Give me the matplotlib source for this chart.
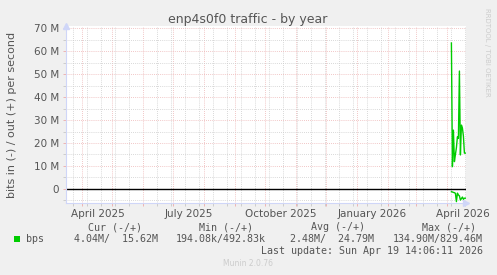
"""Munin-style yearly traffic graph for enp4s0f0."""

from datetime import datetime, timedelta

import matplotlib

matplotlib.use("Agg")
import matplotlib.dates as mdates
import matplotlib.pyplot as plt
import numpy as np

# --- data (bits per second) ---------------------------------------------------
START = datetime(2025, 3, 15, 14, 6)
END = datetime(2026, 4, 19, 14, 6)
DAYS = [datetime(2026, 4, d) for d in range(5, 20)]
OUT_MBPS = [63.5, 9.7, 25.6, 11.9, 15.0, 18.0, 22.7, 22.0, 51.3, 14.8, 27.8, 26.5, 23.0, 15.6, 15.6]
IN_MBPS = [1.2, 1.3, 1.5, 1.6, 1.9, 5.5, 1.8, 2.6, 3.0, 4.8, 4.2, 3.5, 4.5, 4.0, 4.0]

Y_TICKS = [0, 10, 20, 30, 40, 50, 60, 70]
Y_TICK_LABELS = ["0", "10 M", "20 M", "30 M", "40 M", "50 M", "60 M", "70 M"]
X_LABEL_DATES = [datetime(2025, 4, 16), datetime(2025, 7, 16), datetime(2025, 10, 16),
                 datetime(2026, 1, 16), datetime(2026, 4, 16)]
X_LABELS = ["April 2025", "July 2025", "October 2025", "January 2026", "April 2026"]

LEGEND_HEADERS = ["Cur (-/+)", "Min (-/+)", "Avg (-/+)", "Max (-/+)"]
LEGEND_VALUES = ["4.04M/  15.62M", "194.08k/492.83k", "2.48M/  24.79M", "134.90M/829.46M"]
LAST_UPDATE = "Last update: Sun Apr 19 14:06:11 2026"

GREEN = "#00CC00"
BG = "#F0F0F0"
TEXT = "#555555"
MGRID = "#EDB4B4"
GRID = "#CCCCCC"
AXIS = "#CFD6F8"

W, H = 497, 275
fig = plt.figure(figsize=(W / 100, H / 100), dpi=100, facecolor=BG)
# plot area in pixels: x 66..466, y 26..203
ax = fig.add_axes([66 / W, 1 - 203 / H, 400 / W, (203 - 26) / H], facecolor="white")

ax.set_xlim(START, END)
ax.set_ylim(-6.1, 70.9)

# grid: red dotted at month starts / every 10M, grey every two weeks / 5M
months = []
d = datetime(2025, 4, 1)
while d < END:
    months.append(d)
    d = datetime(d.year + d.month // 12, d.month % 12 + 1, 1)
biweekly = []
d = datetime(2025, 3, 23)
while d < END:
    biweekly.append(d)
    d += timedelta(days=14)

ax.set_xticks(months)
ax.set_xticks(biweekly, minor=True)
ax.set_xticklabels([])
ax.set_yticks(Y_TICKS)
ax.set_yticklabels(Y_TICK_LABELS)
ax.set_yticks([-5, 5, 15, 25, 35, 45, 55, 65], minor=True)

ax.grid(which="major", color=MGRID, linestyle=(0, (1, 1.5)), linewidth=0.6, zorder=0)
ax.grid(which="minor", color=GRID, linestyle=(0, (1, 1.5)), linewidth=0.6, zorder=0)
ax.set_axisbelow(True)

ax.tick_params(which="both", length=2, width=0.7, pad=3)
ax.tick_params(which="major", color=MGRID, labelsize=7.5, labelcolor=TEXT)
ax.tick_params(which="minor", color=GRID)
for s in ["top", "right"]:
    ax.spines[s].set_visible(False)
for s in ["left", "bottom"]:
    ax.spines[s].set_color(AXIS)
    ax.spines[s].set_linewidth(0.8)

# axis arrows
ax.plot(1.0, 0, marker=">", color=AXIS, markersize=4, transform=ax.transAxes, clip_on=False)
ax.plot(0, 1.0, marker="^", color=AXIS, markersize=4, transform=ax.transAxes, clip_on=False)

# month labels centred mid-month
trans = ax.get_xaxis_transform()
for dt, lab in zip(X_LABEL_DATES, X_LABELS):
    ax.text(mdates.date2num(dt), -0.035, lab, transform=trans, ha="center", va="top",
            fontsize=7.5, color=TEXT)

# zero line + data
ax.axhline(0, color="black", linewidth=1.0, zorder=2)
ax.plot(DAYS, OUT_MBPS, color=GREEN, linewidth=1.0, zorder=3)
ax.plot(DAYS, -np.array(IN_MBPS), color=GREEN, linewidth=1.0, zorder=3)

# texts
fig.text(248 / W, 1 - 19 / H, "enp4s0f0 traffic - by year", ha="center", va="center",
         fontsize=9, color=TEXT)
fig.text(12 / W, 1 - 115 / H, "bits in (-) / out (+) per second", rotation=90,
         ha="center", va="center", fontsize=8, color=TEXT)
fig.text(487 / W, 1 - 52 / H, "RRDTOOL / TOBI OETIKER", rotation=270, ha="center",
         va="center", fontsize=5, color="#CCCCCC")

mono = "DejaVu Sans Mono"
fig.patches.append(plt.Rectangle((14 / W, 1 - 242 / H), 6 / W, 6 / H, transform=fig.transFigure,
                                 facecolor=GREEN, edgecolor="none"))
fig.text(26 / W, 1 - 239 / H, "bps", family=mono, fontsize=7.2, color=TEXT, va="center")
for hdr, right in zip(LEGEND_HEADERS, [142, 253, 365, 476]):
    fig.text(right / W, 1 - 227 / H, hdr, family=mono, fontsize=7.2, color=TEXT,
             ha="right", va="center")
for val, right in zip(LEGEND_VALUES, [158, 266, 374, 483]):
    fig.text(right / W, 1 - 239 / H, val, family=mono, fontsize=7.2, color=TEXT,
             ha="right", va="center")
fig.text(483 / W, 1 - 251 / H, LAST_UPDATE, family=mono, fontsize=7.2, color=TEXT,
         ha="right", va="center")
fig.text(248 / W, 1 - 264 / H, "Munin 2.0.76", ha="center", va="center", fontsize=5.5,
         color="#CCCCCC")

fig.savefig("out.png", dpi=100, facecolor=BG)
